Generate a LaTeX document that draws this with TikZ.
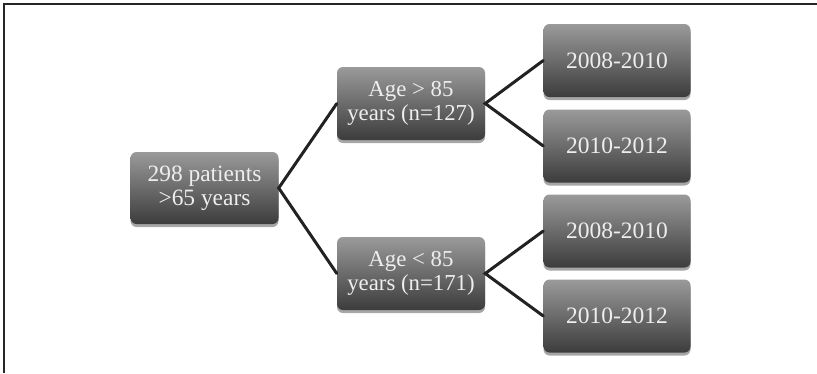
\documentclass[tikz,border=0pt]{standalone}
\usepackage{fontspec}
\setmainfont{Liberation Serif}
\usetikzlibrary{shadows}
\definecolor{boxtop}{HTML}{9A9A9A}
\definecolor{boxbot}{HTML}{3C3C3C}
\definecolor{txt}{HTML}{EEEEEE}
\definecolor{edge}{HTML}{222222}
\tikzset{
  gbox/.style={rounded corners=6pt, top color=boxtop, bottom color=boxbot,
    draw=none, text=txt, align=center, inner sep=0pt,
    font=\fontsize{23.4}{24.5}\selectfont,
    drop shadow={shadow xshift=0pt, shadow yshift=-3pt, opacity=0.35, fill=black}},
  midbox/.style={gbox, minimum width=148pt, minimum height=73pt,
    font=\fontsize{22.8}{24.5}\selectfont},
  leafbox/.style={gbox, minimum width=147pt, minimum height=73pt,
    font=\fontsize{23.5}{25}\selectfont},
  conn/.style={draw=edge, line width=3pt, line cap=round}
}
\begin{document}
\begin{tikzpicture}[x=1pt,y=-1pt]
\useasboundingbox (0,0) rectangle (817,373);
\fill[white] (0,0) rectangle (817,373);
\draw[line width=2pt, draw=black!85] (4,373) -- (4,4) -- (817,4);
\node[gbox, minimum width=148pt, minimum height=72pt] (root) at (204.5,188) {298 patients\\>65 years};
\node[midbox] (old) at (411,103.5) {Age > 85\\years (n=127)};
\node[midbox] (young) at (411,273.5) {Age < 85\\years (n=171)};
\node[leafbox] (l1) at (617,60.5) {2008-2010};
\node[leafbox] (l2) at (617,146) {2010-2012};
\node[leafbox] (l3) at (617,231) {2008-2010};
\node[leafbox] (l4) at (617,316) {2010-2012};
\draw[conn] (old.west) -- (root.east) -- (young.west);
\draw[conn] (l1.west) -- (old.east) -- (l2.west);
\draw[conn] (l3.west) -- (young.east) -- (l4.west);
\end{tikzpicture}
\end{document}
